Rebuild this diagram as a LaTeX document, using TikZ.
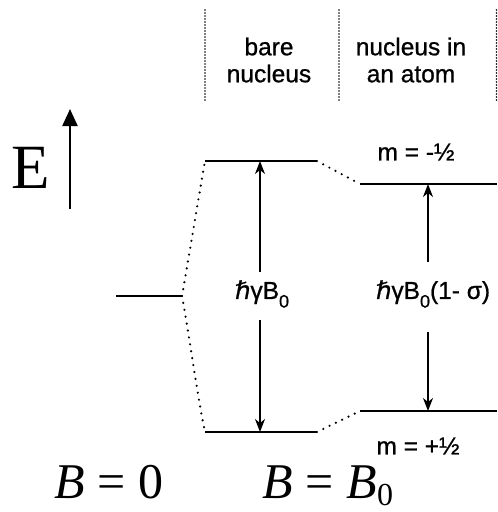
\documentclass[tikz,border=0pt]{standalone}
\usepackage{fontspec}
\setmainfont{Liberation Serif}
\newfontfamily\sansf[FakeBold=0.8]{Liberation Sans}
\newfontfamily\dvf[FakeBold=0.8]{DejaVu Sans}
\usetikzlibrary{arrows.meta}
\newcommand{\hb}{{\dvf ℏ}}
\newcommand{\zsub}{\raisebox{-0.35em}{\fontsize{18}{18}\selectfont 0}}
\begin{document}
\begin{tikzpicture}[x=1pt,y=-1pt,
  level/.style={line width=2.2pt},
  dots/.style={line width=2.4pt,line cap=round,dash pattern=on 0pt off 7pt},
  sep/.style={line width=1.8pt,line cap=round,dash pattern=on 0pt off 3pt},
  arr/.style={line width=1.5pt,-{Stealth[length=13pt,width=10pt,inset=4pt]}},
  lbl/.style={font=\sansf\fontsize{24.5}{27}\selectfont,inner sep=0pt,align=center},
  big/.style={font=\fontsize{50}{50}\selectfont,inner sep=0pt,anchor=base}]
\useasboundingbox (0,0) rectangle (498,512);
% column separators
\draw[sep] (205,10) -- (205,102);
\draw[sep] (339,10) -- (339,102);
\draw[sep] (496.5,10) -- (496.5,102);
\node[lbl] (h1) at (269,60) {bare\\nucleus};
\node[lbl] (h2) at (411,60) {nucleus in\\an atom};
% E axis
\node[font=\fontsize{63}{63}\selectfont,inner sep=0pt] (E) at (31,168) {E};
\coordinate (Ebot) at (70,209);
\coordinate (Etop) at (70,109);
\draw[line width=2.2pt,-{Triangle[length=17pt,width=15pt]}] (Ebot) -- (Etop);
% levels
\coordinate (L0a) at (116,296); \coordinate (L0b) at (182,296);
\coordinate (U1a) at (205,161); \coordinate (U1b) at (317,161);
\coordinate (D1a) at (205,432); \coordinate (D1b) at (317,432);
\coordinate (U2a) at (360,184); \coordinate (U2b) at (497,184);
\coordinate (D2a) at (360,411); \coordinate (D2b) at (497,411);
\draw[level] (L0a) -- (L0b);
\draw[level] (U1a) -- (U1b);
\draw[level] (D1a) -- (D1b);
\draw[level] (U2a) -- (U2b);
\draw[level] (D2a) -- (D2b);
% dotted correlation lines
\draw[dots] (L0b) .. controls (190,250) and (199,195) .. (U1a);
\draw[dots] (L0b) .. controls (190,340) and (198,400) .. (D1a);
\draw[dots] (U1b) -- (U2a);
\draw[dots] (D1b) -- (D2a);
% labels
\node[lbl] (g1) at (262,294) {\hb γB\zsub};
\node[lbl] (g2) at (433,294) {\hb γB\zsub(1- σ)};
\node[lbl] (m1) at (416,152) {m = -½};
\node[lbl] (m2) at (418,446) {m = +½};
% arrows
\coordinate (a1u) at (260,272); \coordinate (a1d) at (260,320);
\coordinate (a2u) at (428,262); \coordinate (a2d) at (428,332);
\draw[arr] (a1u) -- (U1a -| a1u);
\draw[arr] (a1d) -- (D1a -| a1d);
\draw[arr] (a2u) -- (U2a -| a2u);
\draw[arr] (a2d) -- (D2a -| a2d);
% bottom
\node[big] (b0) at (109,498) {\textit{B} = 0};
\node[big] (b1) at (328,498) {\textit{B} = \textit{B}\raisebox{-0.14em}{\fontsize{32}{32}\selectfont 0}};
\end{tikzpicture}
\end{document}
